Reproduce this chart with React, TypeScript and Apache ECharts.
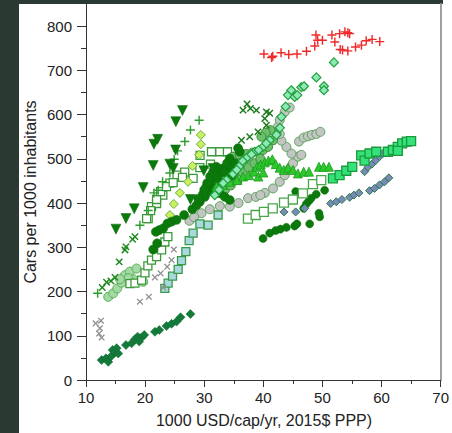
import React, { useEffect, useRef } from "react";
import * as echarts from "echarts";

// ---- data (x: 1000 USD/cap/yr, y: cars per 1000 inhabitants) ----
const xTicks = [10, 20, 30, 40, 50, 60, 70];
const yTicks = [0, 100, 200, 300, 400, 500, 600, 700, 800];
const yMinorTicks = [50, 150, 250, 350, 450, 550, 650, 750];

const redPlus = [
  [40.1, 737], [41.4, 729], [41.6, 732], [43.0, 740], [44.3, 736], [45.7, 737], [47.3, 743],
  [48.7, 755], [48.9, 780], [49.2, 768], [50.0, 768], [51.6, 780], [52.1, 764], [52.9, 783],
  [53.8, 787], [54.3, 785], [54.6, 783], [53.0, 747], [53.4, 746], [54.3, 744], [55.6, 753],
  [56.6, 757], [57.4, 767], [58.4, 770], [59.7, 765],
];
const darkTriangles = [
  [15.07, 341], [16.76, 365], [18.16, 387], [19.68, 435], [21.37, 485], [21.49, 533],
  [22.11, 544], [24.19, 488], [24.75, 478], [25.15, 520], [25.2, 584], [26.32, 609],
  [27.67, 408], [29.93, 473], [31.5, 478],
];
const greenCross = [
  [12.75, 209], [13.48, 221], [14.21, 224], [14.9, 232], [15.62, 267], [16.59, 294],
  [16.76, 301], [17.88, 318], [18.28, 324],
];
const greenPlus = [
  [11.97, 196], [19.12, 350], [20.52, 383], [21.49, 423], [22.22, 429], [22.96, 448],
  [24.19, 468], [24.92, 499], [25.49, 518], [26.72, 539], [27.67, 565], [29.14, 587],
];
const grayCross = [
  [11.64, 128], [12.53, 134], [12.36, 117], [12.2, 105], [12.64, 96], [19.12, 177],
  [20.64, 188], [21.66, 232], [22.62, 241], [23.06, 209], [23.73, 256], [24.48, 271], [24.86, 295],
];
const tealDiamonds = [
  [12.64, 45], [13.38, 49], [13.77, 41], [14.22, 53], [14.5, 68], [14.9, 62], [15.46, 60],
  [15.18, 72], [16.76, 79], [17.72, 83], [18.28, 92], [18.73, 98], [19.4, 96], [19.85, 102],
  [19.0, 87], [21.66, 109], [22.39, 113], [23.62, 122], [24.48, 127], [25.32, 132], [26.0, 142],
  [27.67, 149],
];
const darkCirclesRight = [
  [39.95, 320], [41.08, 332], [42.09, 338], [42.89, 341], [43.9, 345], [45.3, 348], [45.69, 353],
  [47.84, 353], [49.41, 377], [49.53, 369], [45.47, 426], [46.32, 422], [46.82, 388], [47.27, 398],
  [47.72, 405], [48.1, 411], [48.95, 420], [50.37, 429],
];
const slateDiamonds = [
  [43.5, 380], [45.47, 380], [46.99, 388], [51.39, 399], [52.34, 403], [53.3, 408], [54.6, 413],
  [55.32, 418], [56.17, 423], [57.97, 428], [58.82, 433], [59.66, 441], [60.51, 448], [61.23, 457],
  [57.13, 471], [57.7, 481], [58.37, 488], [59.0, 496], [59.66, 505], [60.22, 512],
];
const brightSquares = [
  [51.77, 456], [52.9, 463], [54.03, 473], [55.04, 482], [56.56, 508], [57.13, 496], [57.97, 512],
  [59.1, 516], [61.07, 516], [61.91, 520], [62.75, 527], [63.49, 535], [64.27, 539], [65.0, 540],
  [62.75, 518],
];
const hollowSquaresRight = [
  [37.4, 365], [38.7, 373], [40.1, 380], [41.6, 388], [43.5, 401], [45.0, 408], [46.7, 422],
  [48.4, 443], [49.8, 452],
];
const hollowSquaresLow = [
  [17.43, 218], [18.28, 219], [19.41, 226], [19.97, 242], [20.47, 258], [21.08, 271], [21.94, 279],
  [22.79, 294], [23.34, 312], [23.85, 324], [20.52, 365], [21.08, 392], [21.94, 399], [23.0, 418],
  [24.19, 445], [25.4, 463], [26.7, 470], [29.3, 508],
];
const hollowSquaresMid = [
  [20.25, 365], [20.93, 383], [21.94, 408], [22.62, 426], [23.62, 437], [24.75, 446], [26.32, 458],
  [28.12, 456], [29.26, 480], [31.06, 488], [31.23, 516], [32.64, 516], [33.93, 516],
];
const lightGreenCircles = [
  [13.77, 188], [14.61, 196], [15.29, 207], [16.03, 220], [16.59, 237], [17.43, 245], [18.55, 252],
  [19.68, 222], [17.99, 228], [17.15, 230], [15.74, 228],
];
const grayCircles = [
  [29.54, 377], [30.95, 386], [32.64, 393], [34.32, 392], [37.42, 411], [38.72, 414], [40.24, 423],
  [41.64, 433], [42.77, 448], [43.62, 463], [44.46, 478], [45.02, 490], [45.86, 505], [46.43, 509],
  [44.75, 512], [43.9, 527], [43.06, 541], [42.77, 556], [42.49, 573], [42.77, 588], [43.62, 606],
  [44.46, 616], [46.03, 539], [46.82, 548], [47.55, 551], [48.22, 554], [48.97, 556], [49.65, 561],
  [27.5, 360], [28.3, 368], [35.8, 400], [39.5, 418],
];
const darkCirclesMid = [
  [21.37, 295], [22.04, 309], [21.82, 335], [22.39, 339], [23.06, 343], [23.78, 354], [24.48, 358],
  [25.32, 362], [26.6, 373], [28.0, 386], [29.26, 403], [30.1, 414], [30.95, 426], [31.23, 448],
  [31.96, 460], [32.64, 467], [33.09, 478], [34.32, 501], [36.01, 516], [30.39, 437], [31.79, 433],
  [32.64, 422], [33.48, 414], [34.32, 407], [32.07, 482], [33.87, 490], [34.88, 463], [35.73, 524],
  [29.8, 420], [30.5, 445], [31.0, 460], [31.5, 470], [32.3, 455], [33.0, 445], [33.5, 470],
  [34.0, 455], [34.6, 480], [35.2, 490], [30.0, 430], [28.7, 395], [29.0, 410],
];
const lightBlueSquares = [
  [23.34, 207], [23.9, 219], [24.64, 235], [25.59, 250], [26.16, 270], [26.89, 290], [27.45, 315],
  [28.12, 332], [29.26, 353], [30.66, 350], [32.35, 373], [35.62, 452],
];
const yellowDiamonds = [
  [24.19, 373], [24.86, 398], [25.88, 423], [27.28, 448], [28.02, 484], [29.14, 509], [29.43, 533],
  [29.43, 554],
];
const brightTriangles = [
  [32.07, 437], [33.2, 441], [34.32, 448], [35.56, 452], [36.57, 460], [37.59, 463], [38.38, 471],
  [38.94, 482], [39.56, 487], [40.24, 492], [40.86, 496], [41.53, 499], [42.09, 488], [42.77, 480],
  [43.45, 475], [44.17, 480], [45.02, 475], [45.86, 467], [46.82, 471], [47.72, 471], [49.41, 482],
  [50.2, 482], [51.1, 482], [39.16, 460], [40.0, 469],
];
const mintDiamonds = [
  [31.79, 418], [33.76, 452], [34.88, 466], [36.01, 484], [37.25, 503], [38.55, 516], [39.95, 527],
  [41.08, 542], [42.21, 554], [43.06, 595], [43.78, 618], [44.17, 644], [44.73, 655], [45.3, 640],
  [45.74, 644], [46.43, 662], [46.88, 664], [48.97, 684], [50.25, 664], [50.25, 655], [51.94, 718],
  [32.5, 430], [33.2, 445], [35.5, 475], [36.5, 495], [38.0, 510], [39.2, 520], [40.5, 535],
  [42.8, 570],
];
const darkCrossCluster = [
  [36.57, 610], [37.25, 624], [37.82, 614], [38.83, 610], [40.52, 606], [41.08, 603], [40.24, 591],
  [40.52, 576], [39.1, 561], [37.7, 550], [36.3, 542],
];
const greenCircles = [
  [34.88, 505], [36.01, 509], [37.14, 511], [38.15, 514], [39.1, 516], [39.95, 520], [40.8, 527],
  [41.64, 542], [42.21, 558], [41.2, 565], [40.4, 559], [39.68, 550], [33.5, 430], [34.5, 440],
  [35.5, 455], [36.5, 470], [37.5, 480], [38.5, 490], [39.5, 500], [35.0, 470], [36.0, 490],
  [37.0, 500],
];

const PLUS = "path://M4.2,0h1.6v4.2h4.2v1.6h-4.2v4.2h-1.6v-4.2h-4.2v-1.6h4.2z";

function sc(
  name: string,
  data: number[][],
  symbol: string,
  size: number,
  color: string,
  borderColor?: string,
  borderWidth = 0,
  rotate = 0,
  opacity = 1
) {
  return {
    name,
    type: "scatter",
    data,
    symbol,
    symbolSize: size,
    symbolRotate: rotate,
    itemStyle: {
      color,
      borderColor: borderColor || color,
      borderWidth,
      opacity,
    },
    emphasis: { disabled: true },
  };
}

export default function App() {
  const ref = useRef<HTMLDivElement>(null);
  useEffect(() => {
    if (!ref.current) return;
    const chart = echarts.init(ref.current, null, { renderer: "svg" });
    const font = "'Liberation Sans', Arial, Helvetica, sans-serif";
    chart.setOption({
      animation: false,
      backgroundColor: "#2a3a33",
      graphic: [
        { type: "rect", z: -100, silent: true, shape: { x: 19, y: 4, width: 433, height: 429 }, style: { fill: "#ffffff" } },
        { type: "rect", z: -100, silent: true, shape: { x: 443, y: 0, width: 9, height: 4 }, style: { fill: "#ffffff" } },
        {
          type: "text",
          x: 30,
          y: 192,
          rotation: Math.PI / 2,
          style: {
            text: "Cars per 1000 inhabitants",
            font: `16px ${font}`,
            fill: "#222",
            align: "center",
            verticalAlign: "middle",
          },
        },
        {
          type: "text",
          x: 264,
          y: 420,
          style: {
            text: "1000 USD/cap/yr, 2015$ PPP)",
            font: `16px ${font}`,
            fill: "#222",
            align: "center",
            verticalAlign: "middle",
          },
        },
      ],
      grid: { left: 86, right: 11, top: 4, bottom: 53, containLabel: false },
      xAxis: {
        type: "value",
        min: 10,
        max: 70,
        interval: 10,
        axisLine: { show: true, lineStyle: { color: "#333", width: 1 } },
        axisTick: { show: true, length: 7, lineStyle: { color: "#333" } },
        minorTick: { show: true, splitNumber: 2, length: 4, lineStyle: { color: "#333" } },
        splitLine: { show: false },
        axisLabel: { color: "#222", fontSize: 15, fontFamily: font, margin: 10, customValues: xTicks },
      },
      yAxis: [
        {
          type: "value",
          min: 0,
          max: 850,
          axisLine: { show: true, lineStyle: { color: "#333", width: 1 } },
          axisTick: { show: true, length: 9, lineStyle: { color: "#333" }, customValues: yTicks },
          splitLine: { show: false },
          axisLabel: { color: "#222", fontSize: 15, fontFamily: font, margin: 14, customValues: yTicks },
        },
        {
          type: "value",
          min: 0,
          max: 850,
          position: "left",
          axisLine: { show: false },
          axisTick: { show: true, length: 5, lineStyle: { color: "#333" }, customValues: yMinorTicks },
          splitLine: { show: false },
          axisLabel: { show: false },
        },
        {
          type: "value",
          min: 0,
          max: 850,
          position: "right",
          axisLine: { show: true, onZero: false, lineStyle: { color: "#a0a0a0", width: 2 } },
          axisTick: { show: false },
          splitLine: { show: false },
          axisLabel: { show: false },
        },
      ],
      series: [
        sc("grayCircles", grayCircles, "circle", 9, "#c4c4c4", "#5aa55a", 1),
        sc("lightGreenCircles", lightGreenCircles, "circle", 9, "#a3d9a3", "#5ab05a", 1),
        sc("hollowSquaresLow", hollowSquaresLow, "rect", 8, "#ffffff", "#3a9a3a", 1.3),
        sc("hollowSquaresMid", hollowSquaresMid, "rect", 8, "#ffffff", "#3a9a3a", 1.3),
        sc("lightBlueSquares", lightBlueSquares, "rect", 8, "#a9d9de", "#3a9a4a", 1.3),
        sc("grayCross", grayCross, PLUS, 8, "#909090", undefined, 0, 45),
        sc("yellowDiamonds", yellowDiamonds, "diamond", 9, "#c8f060", "#6ab040", 1),
        sc("greenPlus", greenPlus, PLUS, 9, "#2e9e2e"),
        sc("greenCross", greenCross, PLUS, 9, "#1e8a1e", undefined, 0, 45),
        sc("greenCircles", greenCircles, "circle", 9, "#6cc06c", "#3a8a3a", 1),
        sc("darkCirclesMid", darkCirclesMid, "circle", 9, "#0b7a0b", "#0a6a0a", 0.5),
        sc("brightTriangles", brightTriangles, "triangle", 9, "#2ec82e", "#1a9a1a", 0.8),
        sc("mintDiamonds", mintDiamonds, "diamond", 9, "#8ee8b8", "#22a03a", 1.2),
        sc("darkCrossCluster", darkCrossCluster, PLUS, 9, "#1a7a1a", undefined, 0, 45),
        sc("darkTriangles", darkTriangles, "triangle", 10, "#0a7a0a", "#0a6a0a", 0.5, 180),
        sc("tealDiamonds", tealDiamonds, "diamond", 9, "#147a3c", "#0c6a2a", 0.5),
        sc("darkCirclesRight", darkCirclesRight, "circle", 8, "#0b7a0b", "#0a6a0a", 0.5),
        sc("slateDiamonds", slateDiamonds, "diamond", 8, "#7a8ab8", "#2a7a4a", 1),
        sc("hollowSquaresRight", hollowSquaresRight, "rect", 9, "#ffffff", "#4aa54a", 1.3),
        sc("brightSquares", brightSquares, "rect", 9, "#33e37a", "#1a9a3a", 1.3),
        sc("redPlus", redPlus, PLUS, 9, "#f02a2a"),
      ],
    });
    return () => chart.dispose();
  }, []);
  return (
    <div
      ref={ref}
      style={{ position: "absolute", left: 0, top: 0, width: 452, height: 433 }}
    />
  );
}
